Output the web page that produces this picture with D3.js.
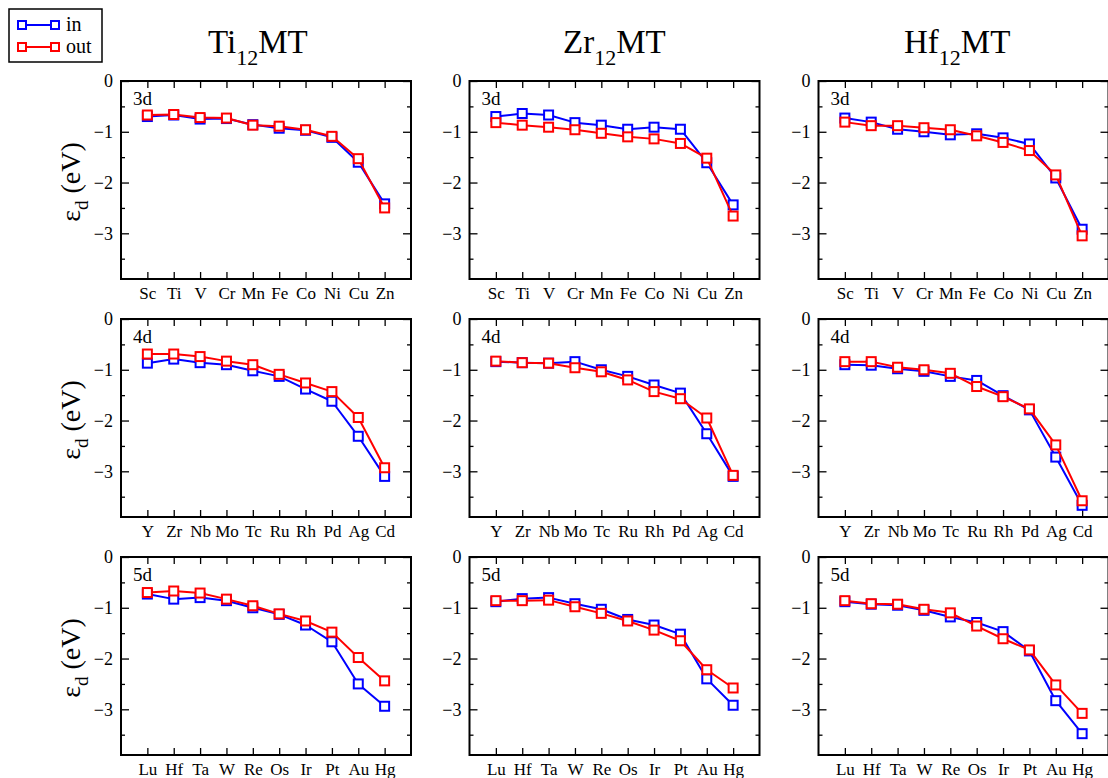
<!DOCTYPE html>
<html>
<head>
<meta charset="utf-8">
<script src="https://cdn.jsdelivr.net/npm/d3@7"></script>
<style>
  html, body { margin: 0; padding: 0; background: #fff; }
  svg { display: block; }
  svg text { font-family: "Liberation Serif", "Times New Roman", serif !important; fill: #000; }
</style>
</head>
<body>
<svg id="chart" width="1108" height="778"></svg>
<script>
// d-band centre (eV) of the dopant M in X12MT clusters, "in" and "out" sites
const hosts = ["Ti", "Zr", "Hf"];
const rowLabels = ["3d", "4d", "5d"];

const cats3d = ["Sc", "Ti", "V", "Cr", "Mn", "Fe", "Co", "Ni", "Cu", "Zn"];
const cats4d = ["Y", "Zr", "Nb", "Mo", "Tc", "Ru", "Rh", "Pd", "Ag", "Cd"];
const cats5d = ["Lu", "Hf", "Ta", "W", "Re", "Os", "Ir", "Pt", "Au", "Hg"];

const yTicks = [0, -1, -2, -3];
const yMinorTicks = [-0.5, -1.5, -2.5, -3.5];

// Ti12MT
const ti3dIn  = [-0.70, -0.67, -0.75, -0.74, -0.86, -0.93, -0.97, -1.11, -1.60, -2.42];
const ti3dOut = [-0.67, -0.66, -0.72, -0.73, -0.87, -0.89, -0.96, -1.09, -1.53, -2.50];
const ti4dIn  = [-0.87, -0.79, -0.86, -0.90, -1.02, -1.13, -1.38, -1.62, -2.31, -3.10];
const ti4dOut = [-0.69, -0.69, -0.74, -0.83, -0.90, -1.09, -1.26, -1.43, -1.94, -2.93];
const ti5dIn  = [-0.73, -0.83, -0.80, -0.86, -1.00, -1.13, -1.34, -1.67, -2.50, -2.94];
const ti5dOut = [-0.70, -0.67, -0.71, -0.83, -0.96, -1.12, -1.26, -1.48, -1.98, -2.44];

// Zr12MT
const zr3dIn  = [-0.70, -0.64, -0.67, -0.82, -0.87, -0.95, -0.91, -0.95, -1.61, -2.44];
const zr3dOut = [-0.82, -0.87, -0.91, -0.96, -1.03, -1.10, -1.14, -1.23, -1.52, -2.66];
const zr4dIn  = [-0.84, -0.86, -0.87, -0.84, -1.00, -1.13, -1.30, -1.46, -2.26, -3.10];
const zr4dOut = [-0.83, -0.86, -0.87, -0.96, -1.04, -1.20, -1.43, -1.57, -1.95, -3.08];
const zr5dIn  = [-0.88, -0.82, -0.80, -0.92, -1.03, -1.23, -1.34, -1.52, -2.40, -2.92];
const zr5dOut = [-0.86, -0.86, -0.85, -0.98, -1.11, -1.26, -1.44, -1.65, -2.22, -2.58];

// Hf12MT
const hf3dIn  = [-0.73, -0.81, -0.95, -1.00, -1.06, -1.04, -1.12, -1.24, -1.91, -2.92];
const hf3dOut = [-0.81, -0.88, -0.88, -0.92, -0.96, -1.08, -1.21, -1.37, -1.85, -3.05];
const hf4dIn  = [-0.90, -0.91, -0.98, -1.03, -1.13, -1.21, -1.51, -1.79, -2.72, -3.67];
const hf4dOut = [-0.84, -0.84, -0.95, -1.00, -1.07, -1.33, -1.53, -1.77, -2.48, -3.58];
const hf5dIn  = [-0.88, -0.93, -0.95, -1.05, -1.18, -1.29, -1.47, -1.85, -2.83, -3.48];
const hf5dOut = [-0.86, -0.92, -0.93, -1.03, -1.10, -1.36, -1.61, -1.83, -2.52, -3.08];

const panels = [
  [ {cats: cats3d, a: ti3dIn, b: ti3dOut}, {cats: cats3d, a: zr3dIn, b: zr3dOut}, {cats: cats3d, a: hf3dIn, b: hf3dOut} ],
  [ {cats: cats4d, a: ti4dIn, b: ti4dOut}, {cats: cats4d, a: zr4dIn, b: zr4dOut}, {cats: cats4d, a: hf4dIn, b: hf4dOut} ],
  [ {cats: cats5d, a: ti5dIn, b: ti5dOut}, {cats: cats5d, a: zr5dIn, b: zr5dOut}, {cats: cats5d, a: hf5dIn, b: hf5dOut} ]
];

const BLUE = "#0000ff", RED = "#ff0000";

// layout
const colX = [121, 469.5, 818.5];
const rowY = [81, 319, 557];
const W = 290, H = 198;
const titleX = [208, 563, 904];

const svg = d3.select("#chart");

const x = d3.scaleLinear().domain([0, 11]).range([0, W]);
const y = d3.scaleLinear().domain([-3.9, 0]).range([H, 0]);
const idx = d3.range(1, 11);

function drawSeries(g, vals, color) {
  const pts = vals.map((v, i) => [x(i + 1), y(v)]);
  g.append("path")
    .attr("d", d3.line()(pts))
    .attr("fill", "none")
    .attr("stroke", color)
    .attr("stroke-width", 2)
    .attr("stroke-linejoin", "round");
  g.selectAll(null).data(pts).enter().append("rect")
    .attr("x", d => d[0] - 4.5)
    .attr("y", d => d[1] - 4.5)
    .attr("width", 9)
    .attr("height", 9)
    .attr("fill", "#fff")
    .attr("stroke", color)
    .attr("stroke-width", 2);
}

function styleAxis(sel) {
  sel.select(".domain").remove();
  sel.selectAll(".tick line").attr("stroke", "#000").attr("stroke-width", 1.3);
}

panels.forEach((row, r) => {
  row.forEach((p, c) => {
    const g = svg.append("g").attr("transform", `translate(${colX[c]},${rowY[r]})`);

    // left axis
    g.append("g").call(d3.axisLeft(y).tickValues(yTicks).tickSize(-8).tickPadding(8)
        .tickFormat(d => d === 0 ? "0" : d3.format("d")(d)))
      .call(styleAxis)
      .call(s => s.selectAll(".tick text").attr("font-size", 18));
    g.append("g").call(d3.axisLeft(y).tickValues(yMinorTicks).tickSize(-4).tickFormat(""))
      .call(styleAxis);

    // right axis
    g.append("g").attr("transform", `translate(${W},0)`)
      .call(d3.axisRight(y).tickValues(yTicks).tickSize(-8).tickFormat(""))
      .call(styleAxis);
    g.append("g").attr("transform", `translate(${W},0)`)
      .call(d3.axisRight(y).tickValues(yMinorTicks).tickSize(-4).tickFormat(""))
      .call(styleAxis);

    // bottom axis with element labels
    g.append("g").attr("transform", `translate(0,${H})`)
      .call(d3.axisBottom(x).tickValues(idx).tickSize(-7).tickPadding(8)
        .tickFormat(i => p.cats[i - 1]))
      .call(styleAxis)
      .call(s => s.selectAll(".tick text").attr("font-size", 17));

    // top axis
    g.append("g")
      .call(d3.axisTop(x).tickValues(idx).tickSize(-7).tickFormat(""))
      .call(styleAxis);

    // frame
    g.append("rect").attr("width", W).attr("height", H)
      .attr("fill", "none").attr("stroke", "#000").attr("stroke-width", 2);

    // row label
    g.append("text").attr("x", 12).attr("y", 24)
      .attr("font-size", 19).text(rowLabels[r]);

    drawSeries(g, p.a, BLUE);
    drawSeries(g, p.b, RED);

    // y axis title on the first column
    if (c === 0) {
      const t = svg.append("text")
        .attr("transform", `translate(80,${rowY[r] + H / 2 + 2}) rotate(-90)`)
        .attr("text-anchor", "middle")
        .attr("font-size", 28);
      t.append("tspan").text("ε");
      t.append("tspan").attr("font-size", 19).attr("dy", 8).text("d");
      t.append("tspan").attr("dy", -8).text(" (eV)");
    }
  });
});

// column titles
hosts.forEach((h, c) => {
  const t = svg.append("text").attr("x", titleX[c]).attr("y", 53).attr("font-size", 33);
  t.append("tspan").text(h);
  t.append("tspan").attr("font-size", 22).attr("dy", 12).text("12");
  t.append("tspan").attr("dy", -12).text("MT");
});

// legend
const lg = svg.append("g");
lg.append("rect").attr("x", 9).attr("y", 9).attr("width", 93).attr("height", 53)
  .attr("fill", "#fff").attr("stroke", "#000").attr("stroke-width", 1.5);
[["in", BLUE, 25], ["out", RED, 47]].forEach(([label, color, ly]) => {
  lg.append("line").attr("x1", 22).attr("x2", 55).attr("y1", ly).attr("y2", ly)
    .attr("stroke", color).attr("stroke-width", 2);
  [22, 55].forEach(cx => lg.append("rect")
    .attr("x", cx - 4).attr("y", ly - 4).attr("width", 8).attr("height", 8)
    .attr("fill", "#fff").attr("stroke", color).attr("stroke-width", 2));
  lg.append("text").attr("x", 66).attr("y", ly + 6).attr("font-size", 20).text(label);
});
</script>
</body>
</html>
